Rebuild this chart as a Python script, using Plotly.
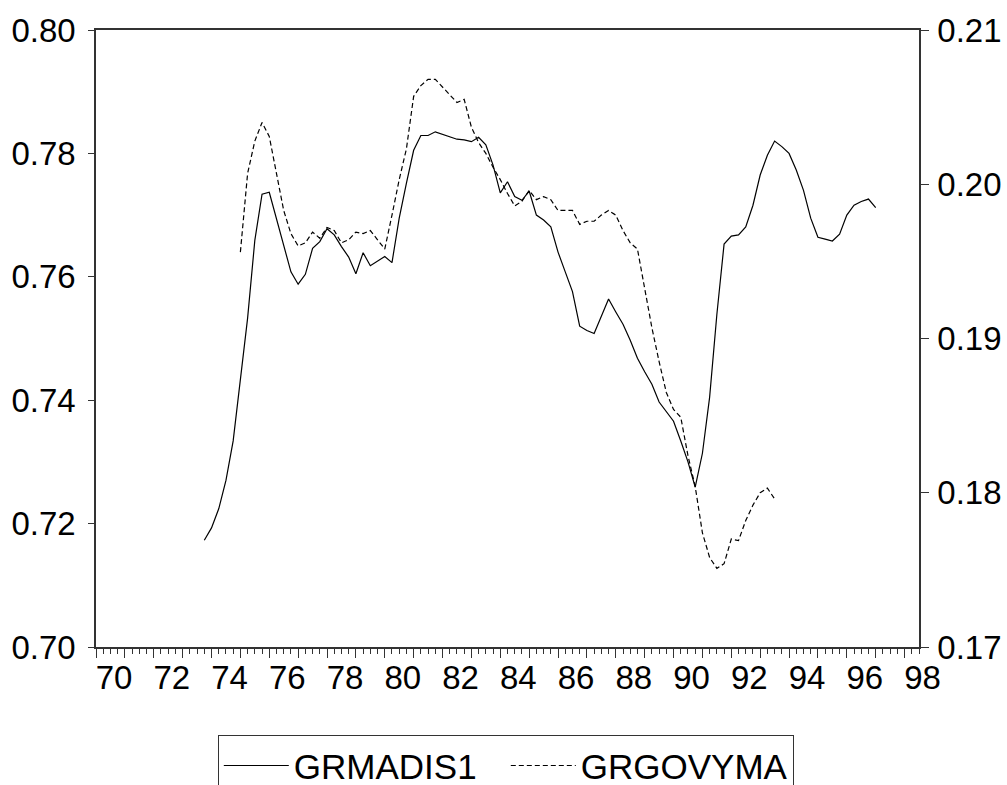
import plotly.graph_objects as go

# ---- data (quarterly) ----
grmadis1_start = 73.75   # 1973Q4
grmadis1 = [
    0.7173, 0.7193, 0.7224, 0.7270, 0.7334, 0.7432, 0.7533, 0.7659, 0.7734, 0.7737,
    0.7695, 0.7651, 0.7608, 0.7588, 0.7604, 0.7646, 0.7657, 0.7678, 0.7668, 0.7649,
    0.7632, 0.7605, 0.7639, 0.7618, 0.7625, 0.7633, 0.7623, 0.7695, 0.7752, 0.7805,
    0.7829, 0.7829, 0.7835, 0.7831, 0.7827, 0.7823, 0.7822, 0.7819, 0.7826, 0.7814,
    0.7781, 0.7736, 0.7754, 0.7730, 0.7724, 0.7739, 0.7700, 0.7692, 0.7681, 0.7640,
    0.7608, 0.7576, 0.7520, 0.7513, 0.7508, 0.7535, 0.7564, 0.7543, 0.7523, 0.7497,
    0.7468, 0.7446, 0.7426, 0.7397, 0.7382, 0.7366, 0.7334, 0.7300, 0.7259, 0.7314,
    0.7405, 0.7539, 0.7653, 0.7666, 0.7668, 0.7681, 0.7716, 0.7765, 0.7797, 0.7820,
    0.7811, 0.7800, 0.7773, 0.7740, 0.7695, 0.7664, 0.7661, 0.7658, 0.7669, 0.7700,
    0.7716, 0.7722, 0.7726, 0.7712,
]

grgovyma_start = 75.0    # 1975Q1
grgovyma = [
    0.1956, 0.2007, 0.2028, 0.2040, 0.2031, 0.2007, 0.1983, 0.1968, 0.1960, 0.1962,
    0.1969, 0.1965, 0.1972, 0.1970, 0.1962, 0.1964, 0.1969, 0.1968, 0.1970, 0.1964,
    0.1958, 0.1980, 0.2003, 0.2023, 0.2057, 0.2064, 0.2068, 0.2068, 0.2063, 0.2058,
    0.2053, 0.2055, 0.2037, 0.2027, 0.2020, 0.2011, 0.2003, 0.1994, 0.1986, 0.1989,
    0.1996, 0.1990, 0.1992, 0.1990, 0.1983, 0.1983, 0.1983, 0.1974, 0.1976, 0.1976,
    0.1980, 0.1983, 0.1980, 0.1970, 0.1962, 0.1958, 0.1933, 0.1907, 0.1885, 0.1865,
    0.1854, 0.1849, 0.1824, 0.1804, 0.1774, 0.1758, 0.1751, 0.1754, 0.1770, 0.1769,
    0.1782, 0.1792, 0.1800, 0.1803, 0.1796,
]

year_ticks = list(range(70, 99))
year_labels = [str(y) if y % 2 == 0 else "" for y in year_ticks]
left_ticks = [0.70, 0.72, 0.74, 0.76, 0.78, 0.80]
right_ticks = [0.17, 0.18, 0.19, 0.20, 0.21]

x1 = [grmadis1_start + 0.25 * i for i in range(len(grmadis1))]
x2 = [grgovyma_start + 0.25 * i for i in range(len(grgovyma))]

FONT = "Liberation Sans, Arial, sans-serif"
AX = "#333333"
FS = 33

fig = go.Figure()
fig.add_trace(go.Scatter(x=x1, y=grmadis1, mode="lines", name="GRMADIS1",
                         line=dict(color="black", width=1.2)))
fig.add_trace(go.Scatter(x=x2, y=grgovyma, mode="lines", name="GRGOVYMA", yaxis="y2",
                         line=dict(color="black", width=1.2, dash="5px,3px")))

fig.update_layout(
    width=1007, height=785,
    margin=dict(l=96, r=88, t=30, b=138, autoexpand=False),
    paper_bgcolor="white", plot_bgcolor="white",
    font=dict(family=FONT, size=FS, color="black"),
    showlegend=True,
    legend=dict(orientation="h", x=0.148, xanchor="left", y=-0.143, yanchor="top",
                bordercolor=AX, borderwidth=1, bgcolor="white",
                font=dict(size=35), itemwidth=65, entrywidth=207, tracegroupgap=0),
    xaxis=dict(range=[70, 98.5], tickmode="array", tickvals=year_ticks, ticktext=year_labels,
               ticks="outside", ticklen=9, tickwidth=1, tickcolor=AX,
               ticklabelshift=18, ticklabelstandoff=-8,
               minor=dict(tickmode="linear", tick0=70, dtick=0.25, ticks="outside",
                          ticklen=5, tickwidth=1, tickcolor=AX),
               showline=True, linecolor=AX, linewidth=1.5, mirror=True,
               showgrid=False, zeroline=False),
    yaxis=dict(range=[0.70, 0.80], tickmode="array", tickvals=left_ticks, tickformat=".2f",
               ticks="outside", ticklen=6, tickwidth=1, tickcolor=AX, ticklabelstandoff=6,
               showline=True, linecolor=AX, linewidth=1.5,
               showgrid=False, zeroline=False),
    yaxis2=dict(range=[0.17, 0.21], tickmode="array", tickvals=right_ticks, tickformat=".2f",
                overlaying="y", side="right",
                ticks="outside", ticklen=8, tickwidth=1, tickcolor=AX, ticklabelstandoff=2,
                showline=True, linecolor=AX, linewidth=1.5,
                showgrid=False, zeroline=False),
)

fig.write_html("out.html")
